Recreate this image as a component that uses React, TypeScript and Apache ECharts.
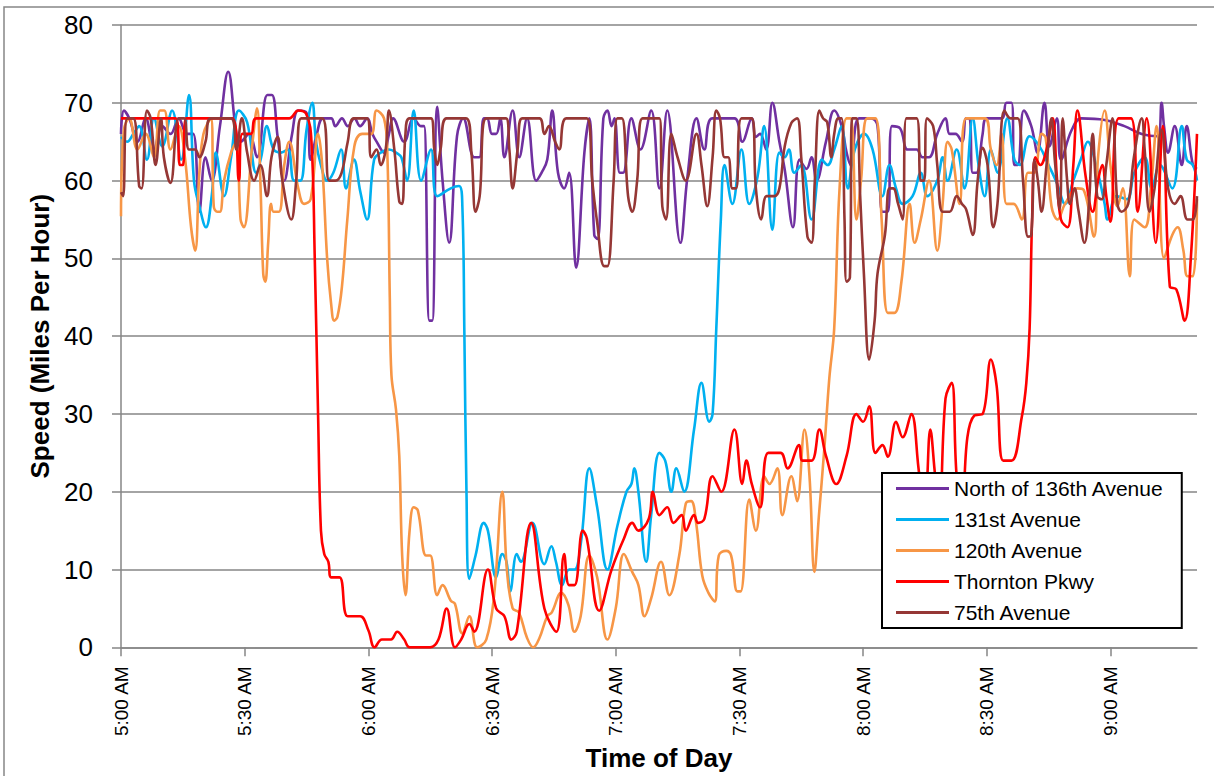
import React, { useEffect, useRef } from "react";
import * as echarts from "echarts";

// minutes after 5:00 AM, speed (mph)
const north136: number[][] = [[0,66],[0.7,69],[2,68],[4,65],[6,68],[8,64],[10,67],[12,66],[14,68],[16,66],[17.5,66],[19,56],[20.5,63],[22,60],[24,67],[26,74],[28,66],[29,65],[31,66],[33,63],[35.5,71],[36.6,71],[38,65.6],[39.6,60],[41.5,66],[43,69],[45,68.7],[46,62.7],[47.5,66],[49,68],[51,68],[52,67],[53.6,68],[55,67],[56.6,68],[58,67],[59.7,68],[61,66],[62,65],[63.8,63.6],[65,66],[66,68],[68.7,65],[71,68],[72.8,67],[73.5,67],[74.8,42],[75.5,42],[76.7,69.5],[78,60],[79.6,52],[81.5,65.7],[83,68],[85.7,63],[86.9,63],[88,68],[88.8,68],[90,66],[91,66],[92,68],[93,63],[95,69],[96.6,63],[98.5,68],[100.7,60],[102,61],[103.4,62.7],[104.6,69],[106,61],[107.5,59],[108.7,61],[110.4,48.8],[112.4,63.6],[113.6,68],[114.8,53],[115.6,52.5],[117,68],[118,69],[119,67],[119.7,68],[121,61],[121.8,61],[123.8,68],[126,64],[128.6,69],[130.6,59],[132.5,69],[135.7,52],[137.4,60.5],[139.6,68],[141.5,64],[143.4,68],[148.8,68],[150.7,65],[153,68],[154,65.6],[155,66],[156.5,64],[158,70],[159.7,65],[161,61.4],[163,54],[164.6,62.7],[166.3,61.5],[167.5,63],[168.7,60],[171,65],[173,69],[174.8,67],[176,63.6],[177,62],[179,68],[182,68],[183.5,67],[184.7,56],[186,56],[187,67],[189,66.7],[190.8,64],[193,64],[194.4,63],[196,63],[198,66],[200,68],[201,66],[202.4,66],[204,65],[205,68],[205.8,68],[206.6,61],[207.5,61],[209,66],[210,68],[213.6,68],[214.8,70],[216,70],[216.7,62],[217.5,62],[219,69],[220.8,67],[222.3,63.6],[224,70],[225.2,64.4],[227,68],[228,62.7],[230.6,66.5],[233,68],[238.6,67.8],[243.4,67],[247.6,66],[251.5,65.7],[252.4,70],[253,67],[254,63.6],[255.6,67],[257.3,62],[258.5,67],[260,62],[261,61.5]];

const ave131: number[][] = [[0,65.6],[1.5,65],[3,66],[4.4,67],[6.3,62.7],[8,68],[10,64.4],[12.4,69],[14.6,62.7],[16.5,71],[17.7,60],[19,56.7],[20.6,54],[22,58],[23,63.6],[25,58],[26.7,63],[28.6,69],[30.6,67.5],[32.8,61],[34,63],[35.4,67],[37,64],[38.8,63.6],[40.5,64],[42,60],[43.5,60],[45,66.5],[46.4,70],[47.3,65],[48.5,62],[50,60],[51.5,61],[53.4,64],[54.6,59],[56.5,62.7],[58,58.7],[59.7,55],[61.4,62.7],[63,63.6],[65,64],[67,63.5],[68,63],[69.4,60],[71,69],[72.8,60],[75.2,64],[76.7,58],[80,59],[82,59.3],[82.8,56.7],[83.3,40],[83.8,20],[84.5,8.8],[86,11.8],[88,16],[89,15],[91,9],[92.5,12],[93.5,11],[94.4,7.2],[96,12],[97,11],[99.8,16],[102.7,10.7],[104.4,13],[105.5,11],[107,8],[108.7,10],[110,10],[111.6,13.6],[113.6,23],[115.5,18],[118,10],[120.4,15.6],[122.6,20],[123.8,21],[124.5,23],[125.5,20],[127.4,11],[128.6,17],[130.6,25],[132,24],[133.5,20],[134.7,23],[136.6,20],[139,28],[140.8,34],[142.7,29],[143.5,30],[144.4,41],[145.5,55],[146.4,62],[148.3,57],[150.5,64],[152.4,57],[154.4,60.5],[156,67],[158,53.7],[159.7,63.6],[161,63],[162,64],[163.3,61],[165,62],[167.5,55],[170,62.7],[171.4,62],[173,64],[174.8,67],[176.3,59],[178,64],[180.3,66],[182.3,64],[184.7,58],[186.4,62],[188,59],[189.6,57],[192,58],[194,61],[195.6,58],[198,60],[199.3,63],[200.5,60],[202.7,64],[204.6,59],[206.6,68],[208,62],[209.5,58],[211,64],[212.6,61],[215,68],[216.7,62.7],[218,62],[220.4,65.7],[222.8,64.4],[225,62],[227,59.7],[229,57],[231,60],[233,63],[234.5,65],[236.5,62],[238.6,57],[239.3,55],[241.5,58],[244,57.6],[245.8,61],[248.3,63],[250,59],[252,62],[255,59],[257.3,67],[258.5,62.7],[260,62],[261,60]];

const ave120: number[][] = [[0,55.4],[0.7,66.5],[2,68],[4,64],[6,66],[8,63],[9.5,69],[10.5,69],[12,64],[14,67],[15.5,63],[17,54],[18,51],[19,61],[20,66],[21.8,68],[22.5,56.7],[23.3,56],[24,56],[25,60],[26.7,63.6],[28,65],[29,55],[29.8,54],[31.8,64.4],[33,69.3],[33.8,60],[34.5,48],[35,47],[35.7,52],[36.4,57],[37,56],[38.3,56],[39.6,62],[40.8,65],[43,59],[44.4,57],[46,57.6],[47.8,66],[48.8,62],[50,50],[51,44],[51.7,42],[52.5,42.5],[53.6,46.4],[54.9,55],[56.6,64.4],[58.5,66],[60.7,66],[62,69],[63.8,68],[64.6,63.6],[65.2,45],[65.6,35],[66.7,30.6],[67.5,24.6],[68.2,11.8],[69,6.7],[70,15],[71,18],[72,17.6],[74,11.8],[75,11.8],[76.7,6.7],[78,8],[80,6],[81,5.6],[82.8,1.8],[84.5,4],[86.4,0],[88.6,1],[90.5,6.7],[92.5,20],[93.6,10],[95,5],[96.5,4.5],[98.5,1.2],[100,0],[101.5,1.2],[103.4,4],[104.5,4.5],[106.8,7],[108.5,5.5],[110,2],[111.5,4],[113.6,11.8],[115.5,9],[118,1],[120,5],[122,12],[124,9.7],[125.5,8],[127,4],[128.6,6.3],[131,11],[133,6.7],[135.4,11.8],[137,18.5],[138.3,18.8],[139.5,16],[141,9.2],[142.5,7],[144,5.9],[145,11.8],[146.8,12.4],[148,11.8],[149.5,7.2],[150.3,7.2],[152.4,19],[154,15],[156,22],[157.3,21],[159.2,23],[160.4,17],[162.6,22],[164,18.8],[165.8,28],[167,22],[168.2,9.7],[169.3,17],[170.6,25.5],[171.8,34.5],[173,41],[174.3,59],[176,68],[177,68],[178.4,55],[179.5,60],[181,68],[183,68],[184.5,55],[186,43],[187.6,43],[189.3,47],[191.3,57],[192.5,52],[194,55],[196,60],[198,51],[199.3,57],[200.5,65],[201.5,64],[203.4,57],[205,68],[209.5,68],[211,64],[212.4,62],[213.6,66],[214.8,57],[216.5,57],[218.5,55],[220,61],[221.5,61],[223.3,66],[224.3,65.5],[225.7,56.7],[227.2,55],[229,57],[232,59],[233.5,58.8],[236,52.8],[237,63],[238.6,69],[240,62],[241.7,56.7],[243,59],[244.7,47.7],[245.8,55],[248.3,54],[249.8,59],[251.2,67],[253,50],[255,53],[256.3,54],[257.7,51],[258.7,47.7],[260,47.7],[261,57.6]];

const thornton: number[][] = [[0,68],[13.3,68],[14.3,62],[15,62],[15.8,68],[27,68],[28.6,60],[29.4,66],[31.5,66],[32.8,68],[40.8,68],[43,69],[45,68.5],[46.2,65],[47,50],[47.8,30],[48.5,15],[49.3,12],[50.3,11],[51,9],[53,9],[55,4],[58,4],[60,2.2],[61.5,0],[63.3,1],[65.5,1],[67,2],[68.7,1],[70,0],[75,0],[77,1],[79,5],[81,0],[82.5,1],[84.5,3],[85.7,2],[89,10],[91,5],[93,4],[94.7,1],[96,2],[99.5,16],[102.7,5],[105.6,2],[107.5,12],[108.7,8],[110,8],[112,15],[113,14],[116,4.7],[119,10],[122,14],[124,16],[125.5,15],[128,16.5],[129,20],[130.6,17],[132.5,18],[134,16],[136,17],[137,15],[139,17],[140,16],[141.5,16.5],[143.5,22],[145.6,20],[148.8,28],[150.7,21],[151.7,24],[153,21],[155,18],[157,25],[160,25],[161.7,23],[164.5,26],[165.3,24],[167.5,24],[169.4,28],[171,24.6],[173.5,21],[176,24.6],[178.4,30],[180,29],[181.5,31],[183,25],[184.7,26],[186,24.5],[188,29],[189.6,27],[191.7,30],[193.7,22],[195,19],[196.3,28],[197.5,22],[198.5,18],[200,32],[201.5,34],[202.7,22],[204,18],[205.3,27],[207,29.8],[209,30],[211,37],[212.4,33.6],[214,24],[216,24],[218.5,29.6],[219.6,34],[220.4,41],[221,55],[221.8,63],[223,62],[224.5,64],[226,68],[227,60.5],[228,55],[229.6,54],[231,62],[232,69],[234,60.5],[235.7,56],[237,60],[238,62],[239,58],[240,54.7],[242,68],[245,68],[246.6,56],[248.8,68],[251,52],[252.7,67],[254.4,46.4],[256,46],[258,42],[259.5,50],[261,66]];

const ave75: number[][] = [[0,58.5],[0.5,58],[1.5,68],[3,68],[4.4,59.3],[5,59],[6.3,69],[7.2,68],[8.4,62],[9.7,68],[10.4,63],[12,59.7],[14,68],[15.3,68],[16.5,64],[18,64],[19,63],[20.5,65],[21.8,68],[26.7,68],[28,64],[29.3,68],[30.6,63.6],[32.3,60],[33.8,62],[35.4,58],[36.5,63],[38,65.6],[39,60.5],[41.3,55],[42.5,60],[43.7,68],[48.8,68],[50.5,60],[52,60],[53.5,61],[55,65],[56.5,68],[59.7,68],[60.7,63],[62,64],[63,62],[64.2,64],[65,69],[66.3,64],[67.5,57.3],[68.2,57],[69,66],[70,68],[75.2,68],[76,64],[76.7,62],[77.5,64],[79,68],[83.7,68],[85,63.6],[86,56],[87,58],[88.6,68],[93.4,68],[94.2,64],[95,59],[96.2,64],[97.3,68],[101.5,68],[102.7,66],[103.8,67],[105.3,65],[106.3,64],[108,68],[113,68],[114.3,60],[115.5,54.6],[117.2,49],[118,49],[119.5,60],[120.4,68],[121.5,68],[123,58],[124,56],[125.2,60],[126.5,68],[130.6,68],[131.3,56.7],[132.2,55],[133.5,66],[135,63],[137,60],[139.6,66],[140.8,62],[142.2,56.7],[143.5,63],[144.4,69],[145.3,68],[146.4,63],[147.3,63],[148.3,59],[149.2,59],[150.5,68],[153,68],[154,59],[155.3,55],[156.6,58],[158.5,58],[159.7,59],[161,64.4],[162.6,67.4],[164,68],[165,63],[166.5,52.8],[167.5,52],[168.3,60],[169.4,69],[170.3,68],[171.3,67.5],[172.3,63],[173,66],[174,68],[174.8,68],[175.5,55],[176,47],[176.8,47.5],[177.4,68],[178.4,68],[179.3,58],[180.2,48],[181.5,37],[182.8,42],[183.5,48],[185.3,53],[186.4,59],[187.3,59],[188.5,57],[189.6,55],[190.5,68],[193,68],[194,60],[194.8,60],[195.5,68],[197,67],[198,62],[199.3,56],[201,56],[202.7,58],[204,57],[205,56.3],[206.6,53],[207.8,60],[209,64.2],[210.2,62],[211.6,54],[212.6,57],[214.3,69],[215.8,68],[217.5,68],[218.8,60],[220,52.8],[220.8,53],[221.6,62.7],[222.4,60],[223.3,56],[224.5,62],[225.7,68],[226.5,62.7],[227.7,56.3],[228.4,68],[229.5,60],[230.2,57],[231.3,59],[232.2,56.3],[233.7,52],[234.8,57],[235.7,66],[236.8,58],[237.9,57.6],[239,62],[240.5,68],[241.7,57],[242.7,56],[244.3,57],[245.7,63],[247.6,68],[248.3,64],[249.5,56],[250.7,59],[252.4,66.5],[254,59],[255.6,57],[257,58],[258.7,55],[260,55],[261,58]];

const seriesNames = ["North of 136th Avenue", "131st Avenue", "120th Avenue", "Thornton Pkwy", "75th Avenue"];
const seriesColors = ["#7030A0", "#00B0F0", "#F79646", "#FF0000", "#953735"];
const seriesData = [north136, ave131, ave120, thornton, ave75];

const FONT = "'Liberation Sans', Arial, sans-serif";
const GRAY = "#868686";

function timeLabel(v: number): string {
  if (Math.abs(v % 30) > 1e-6) return "";
  const t = 300 + v;
  const h = Math.floor(t / 60);
  const m = t % 60;
  return `${h}:${m < 10 ? "0" + m : m} AM`;
}

export default function App() {
  const ref = useRef<HTMLDivElement>(null);
  useEffect(() => {
    if (!ref.current) return;
    const chart = echarts.init(ref.current, null, { renderer: "svg" });
    chart.setOption({
      animation: false,
      backgroundColor: "#fff",
      textStyle: { fontFamily: FONT },
      graphic: [
        {
          type: "rect",
          shape: { x: 4, y: 7, width: 1300, height: 900 },
          style: { fill: "none", stroke: GRAY, lineWidth: 1.5 },
          z: 0,
        },
      ],
      grid: { left: 121, right: 17, top: 25, bottom: 127, containLabel: false },
      legend: {
        orient: "vertical",
        left: 882,
        top: 473,
        padding: [5, 18, 5, 14],
        itemGap: 10,
        itemWidth: 53,
        itemHeight: 3,
        icon: "rect",
        backgroundColor: "#fff",
        borderColor: "#000",
        borderWidth: 2,
        borderRadius: 0,
        data: seriesNames,
        textStyle: { fontSize: 21, color: "#000", fontFamily: FONT },
      },
      xAxis: {
        type: "value",
        min: 0,
        max: 261,
        interval: 30,
        name: "Time of Day",
        nameLocation: "middle",
        nameGap: 92,
        nameTextStyle: { fontSize: 26, fontWeight: "bold", color: "#000", fontFamily: FONT },
        axisLine: { show: true, lineStyle: { color: GRAY, width: 1.5 } },
        axisTick: { show: true, inside: false, length: 9, lineStyle: { color: GRAY, width: 1.5 } },
        axisLabel: {
          rotate: 90,
          margin: 19,
          fontSize: 19,
          color: "#000",
          fontFamily: FONT,
          showMaxLabel: false,
          formatter: (v: number) => timeLabel(v),
        },
        splitLine: { show: false },
      },
      yAxis: {
        type: "value",
        min: 0,
        max: 80,
        interval: 10,
        name: "Speed (Miles Per Hour)",
        nameLocation: "middle",
        nameGap: 60,
        nameTextStyle: { fontSize: 26, fontWeight: "bold", color: "#000", fontFamily: FONT },
        axisLine: { show: true, lineStyle: { color: GRAY, width: 1.5 } },
        axisTick: { show: true, inside: false, length: 9, lineStyle: { color: GRAY, width: 1.5 } },
        axisLabel: { margin: 28, fontSize: 26, color: "#000", fontFamily: FONT },
        splitLine: { show: true, lineStyle: { color: GRAY, width: 1.5 } },
      },
      series: seriesNames.map((name, i) => ({
        name,
        type: "line",
        data: seriesData[i],
        smooth: 0.4,
        symbol: "none",
        showSymbol: false,
        clip: true,
        lineStyle: { color: seriesColors[i], width: 2.6 },
        itemStyle: { color: seriesColors[i] },
        z: 2 + i * 0.01,
      })),
    });
    return () => chart.dispose();
  }, []);
  return (
    <div
      ref={ref}
      style={{ position: "fixed", left: 0, top: 0, width: 1214, height: 776, background: "#fff" }}
    />
  );
}
